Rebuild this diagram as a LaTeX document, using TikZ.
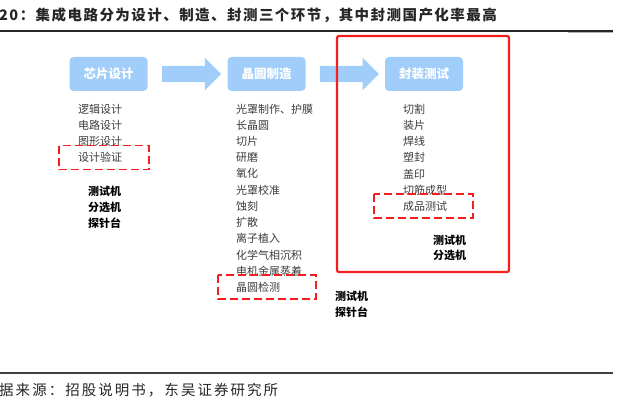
\documentclass[tikz,border=0pt]{standalone}
\usepackage{fontspec}
\usepackage{tikz}
\usetikzlibrary{positioning,shapes.arrows,calc}
\newfontfamily\cjk{Noto Sans CJK SC}
\newfontfamily\cjktitle[LetterSpace=10]{Noto Sans CJK SC}
\newfontfamily\cjksource[LetterSpace=14]{Noto Sans CJK SC}
\definecolor{stageblue}{RGB}{160,205,250}
\definecolor{framered}{RGB}{245,30,30}
\definecolor{itemgray}{RGB}{60,60,60}
\tikzset{
  stagebox/.style={fill=stageblue, rounded corners=4pt, minimum width=78pt,
    minimum height=34pt, inner sep=0pt, text=white,
    font=\cjk\bfseries\fontsize{12.5}{14}\selectfont},
  flowarrow/.style={single arrow, fill=stageblue, draw=none, inner xsep=0pt,
    inner ysep=8pt, minimum height=59pt, single arrow head extend=8pt},
  itemtext/.style={anchor=west, inner sep=0pt, text=itemgray,
    font=\cjk\fontsize{11}{12}\selectfont},
  tooltext/.style={anchor=west, inner sep=0pt, text=black,
    font=\cjk\bfseries\fontsize{11}{12}\selectfont},
  checkbox/.style={draw=framered, line width=1.5pt, dash pattern=on 8pt off 4pt},
}

\begin{document}
\begin{tikzpicture}[x=1pt, y=-1pt]
  \useasboundingbox (0,0) rectangle (619,401);

  % caption and rules
  \node[anchor=west, inner sep=0pt, text=black!85,
    font=\cjktitle\bfseries\fontsize{14.5}{16}\selectfont] (title) at (-1,15)
    {20：集成电路分为设计、制造、封测三个环节，其中封测国产化率最高};
  \draw[line width=1.6pt, black!85] (0,31) -- (613,31);
  \draw[line width=0.8pt, black!30] (568,32.6) -- (613,32.6);
  \draw[line width=1.6pt, black!75] (0,373) -- (613,373);
  \node[anchor=west, inner sep=0pt, text=black!85,
    font=\cjksource\fontsize{14.5}{16}\selectfont] (source) at (-1,390)
    {据来源：招股说明书，东吴证券研究所};

  % stages
  \node[stagebox] (design) at (108.5,74) {芯片设计};
  \node[stagebox] (fab) at (266.5,74) {晶圆制造};
  \node[stagebox] (pack) at (424,74) {封装测试};
  \node[flowarrow] (arrow1) at ($(design.east)!0.5!(fab.west)$) {};
  \node[flowarrow] (arrow2) at ($(fab.east)!0.5!(pack.west)$) {};

  % packaging frame
  \draw[framered, line width=2.2pt, rounded corners=2pt] (337,36) rectangle (509,272);

  % design column
  \foreach \txt [count=\i] in {逻辑设计,电路设计,图形设计,设计验证}
    \node[itemtext] (design-\i) at (78,{109+16.2*(\i-1)}) {\txt};
  \draw[checkbox] ($(design-4.west)+(-19,-12)$) rectangle ($(design-4.west)+(71,12)$);
  \foreach \txt [count=\i] in {测试机,分选机,探针台}
    \node[tooltext] (designtool-\i) at (88,{191+16*(\i-1)}) {\txt};

  % fab column
  \foreach \txt [count=\i] in {光罩制作、护膜,长晶圆,切片,研磨,氧化,光罩校准,蚀刻,扩散,
      离子植入,化学气相沉积,电机金属蒸着,晶圆检测}
    \node[itemtext] (fab-\i) at (236,{109+16.2*(\i-1)}) {\txt};
  \draw[checkbox] ($(fab-12.west)+(-18,-12)$) rectangle ($(fab-12.west)+(80,12)$);
  \foreach \txt [count=\i] in {测试机,探针台}
    \node[tooltext] (fabtool-\i) at (335,{296+16*(\i-1)}) {\txt};

  % packaging column
  \foreach \txt [count=\i] in {切割,装片,焊线,塑封,盖印,切筋成型,成品测试}
    \node[itemtext] (pack-\i) at (403,{109+16.2*(\i-1)}) {\txt};
  \draw[checkbox] ($(pack-7.west)+(-29,-12)$) rectangle ($(pack-7.west)+(70,12)$);
  \foreach \txt [count=\i] in {测试机,分选机}
    \node[tooltext] (packtool-\i) at (433,{240+15.5*(\i-1)}) {\txt};
\end{tikzpicture}
\end{document}
